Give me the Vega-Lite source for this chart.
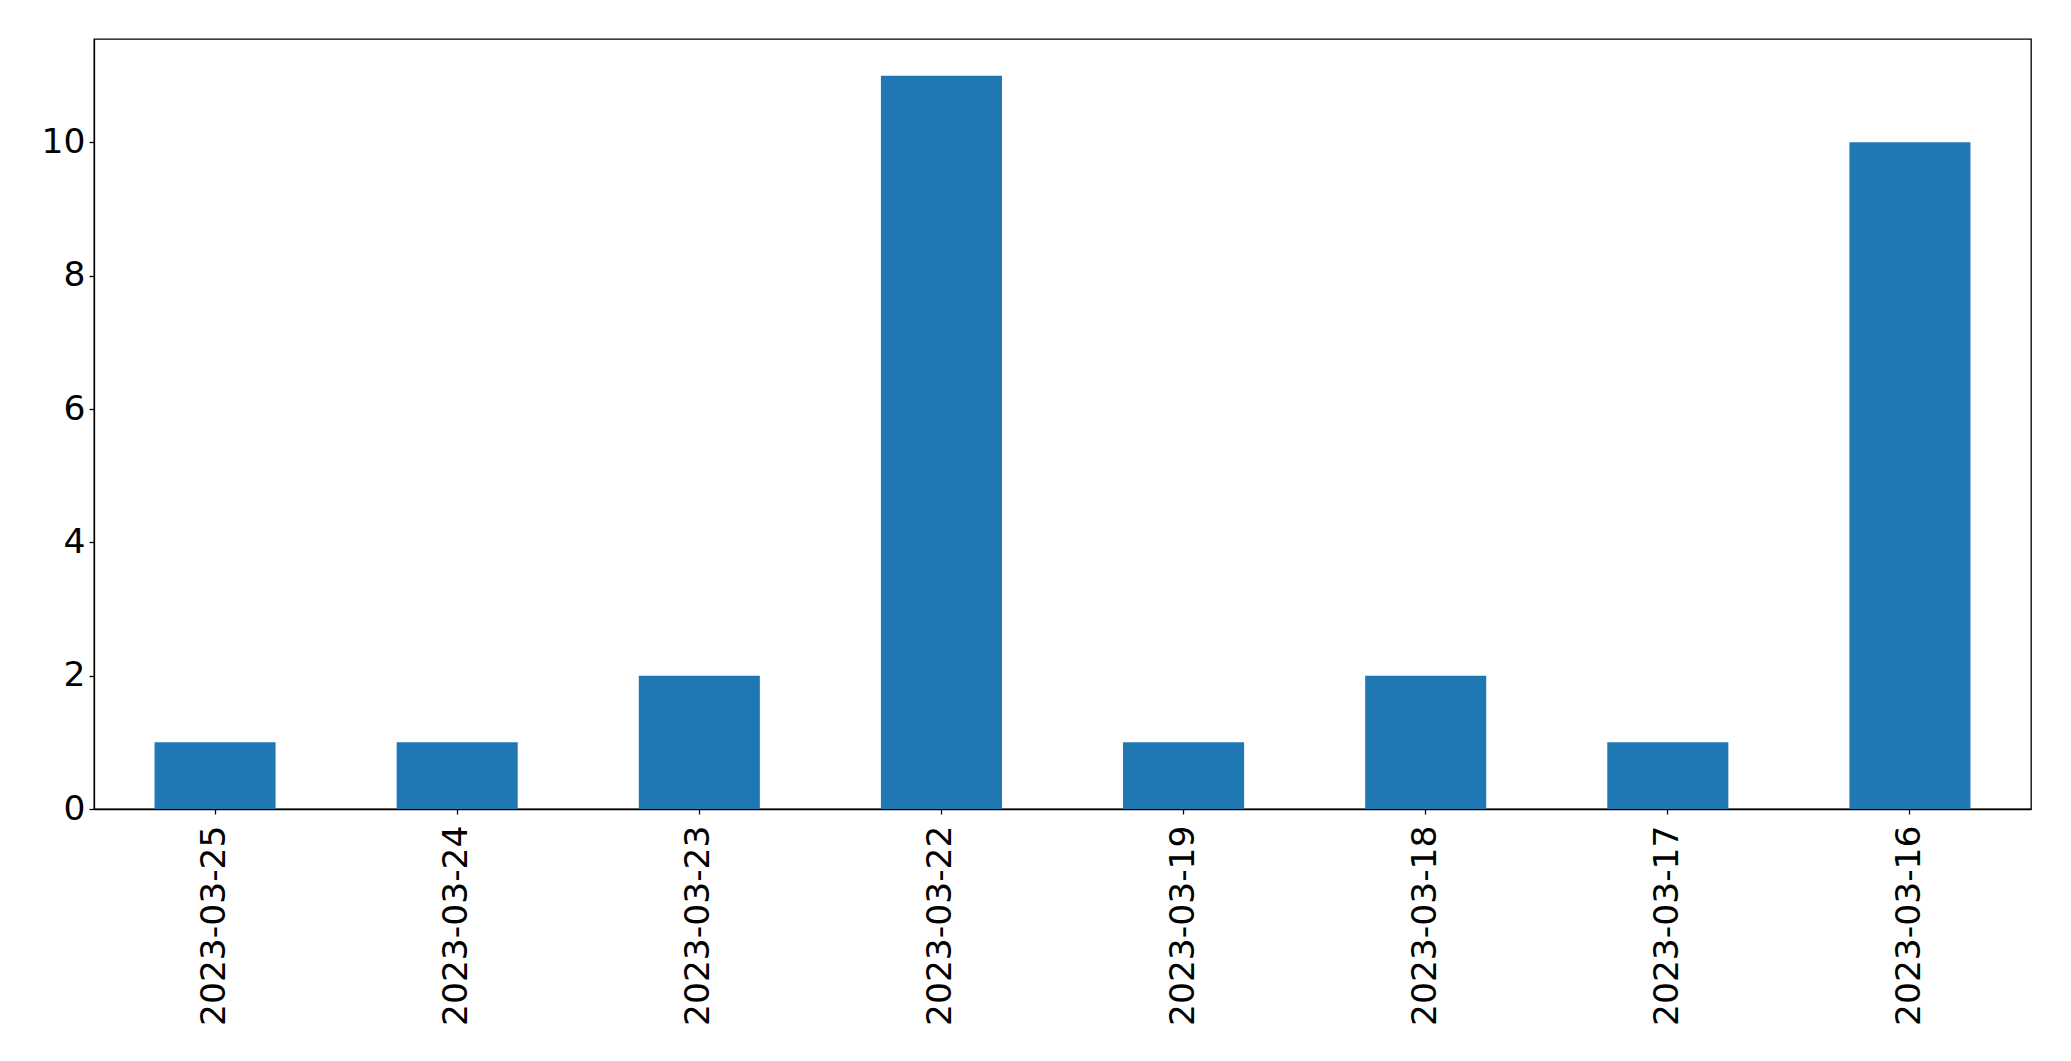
{
  "$schema": "https://vega.github.io/schema/vega-lite/v6.json",
  "width": 1937,
  "height": 770,
  "autosize": {"type": "none"},
  "padding": {"left": 94, "top": 39, "right": 40, "bottom": 252},
  "background": "white",
  "config": {
    "view": {"stroke": "black", "strokeWidth": 1.3},
    "axis": {"grid": false, "labelFont": "DejaVu Sans", "labelFontSize": 34.5, "labelColor": "black", "labelLimit": 0, "tickColor": "black", "domainColor": "black", "tickSize": 5, "tickWidth": 1.3, "domainWidth": 1.3}
  },
  "data": {
    "values": [
      {"date": "2023-03-25", "count": 1},
      {"date": "2023-03-24", "count": 1},
      {"date": "2023-03-23", "count": 2},
      {"date": "2023-03-22", "count": 11},
      {"date": "2023-03-19", "count": 1},
      {"date": "2023-03-18", "count": 2},
      {"date": "2023-03-17", "count": 1},
      {"date": "2023-03-16", "count": 10}
    ]
  },
  "mark": {"type": "bar", "color": "#1f77b4"},
  "encoding": {
    "x": {
      "field": "date", "type": "nominal", "sort": null,
      "scale": {"paddingInner": 0.5, "paddingOuter": 0.25},
      "axis": {"title": null, "labelAngle": -90, "labelPadding": 11}
    },
    "y": {
      "field": "count", "type": "quantitative",
      "scale": {"domain": [0, 11.55], "nice": false, "zero": true},
      "axis": {"title": null, "values": [0, 2, 4, 6, 8, 10], "labelPadding": 4}
    }
  }
}
